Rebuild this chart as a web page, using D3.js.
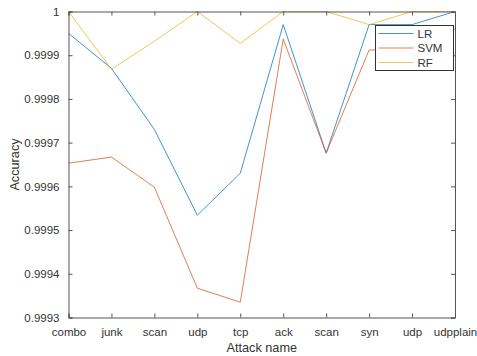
<!DOCTYPE html>
<html>
<head>
<meta charset="utf-8">
<script src="https://cdn.jsdelivr.net/npm/d3@7"></script>
<style>
  body { margin: 0; background: #fff; }
  svg text { font-family: "Liberation Sans", Arial, sans-serif; fill: #333; }
</style>
</head>
<body>
<div id="chart"></div>
<script>
// Données
const attacks = ['combo', 'junk', 'scan', 'udp', 'tcp', 'ack', 'scan', 'syn', 'udp', 'udpplain'];
const lrValues = [0.99995, 0.99987, 0.99973, 0.999534, 0.99963, 0.99997, 0.999676, 0.99997, 0.99997, 1.0];
const svmValues = [0.999653, 0.999667, 0.999598, 0.999367, 0.999335, 0.999937, 0.999676, 0.999912, 0.999912, 0.99996];
const rfValues = [1.0, 0.999868, 0.999932, 1.0, 0.999927, 1.0, 1.0, 0.99997, 1.0, 1.0];
const yTicks = [0.9993, 0.9994, 0.9995, 0.9996, 0.9997, 0.9998, 0.9999, 1];
const seriesNames = ['LR', 'SVM', 'RF'];
const seriesColors = ['#0072BD', '#D95319', '#EDB120'];

const W = 477, H = 356;
const margin = { top: 11.5, right: 22, bottom: 38.5, left: 68.5 };
const width = W - margin.left - margin.right;
const height = H - margin.top - margin.bottom;

const svg = d3.select('#chart').append('svg')
    .attr('width', W)
    .attr('height', H);

const g = svg.append('g')
    .attr('transform', `translate(${margin.left},${margin.top})`);

const x = d3.scalePoint()
    .domain(d3.range(attacks.length))
    .range([0, width]);

const y = d3.scaleLinear()
    .domain([0.9993, 1])
    .range([height, 0]);

// Lignes des séries
const series = [lrValues, svmValues, rfValues];
const line = d3.line()
    .x((d, i) => x(i))
    .y(d => y(d));

series.forEach((vals, k) => {
    g.append('path')
        .datum(vals)
        .attr('fill', 'none')
        .attr('stroke', seriesColors[k])
        .attr('stroke-opacity', 0.75)
        .attr('stroke-width', 1)
        .attr('d', line);
});

// Axes (boîte MATLAB, graduations vers l'intérieur)
const axisColor = '#555';
const tickLen = 4;

const xAxis = g.append('g')
    .attr('transform', `translate(0,${height})`)
    .call(d3.axisBottom(x).tickSize(-tickLen).tickPadding(10).tickFormat(i => attacks[i]));
const xTop = g.append('g')
    .call(d3.axisTop(x).tickSize(-tickLen).tickFormat(''));
const yAxis = g.append('g')
    .call(d3.axisLeft(y).tickValues(yTicks).tickSize(-tickLen).tickPadding(9).tickFormat(d => d === 1 ? '1' : d3.format('.4f')(d)));
const yRight = g.append('g')
    .attr('transform', `translate(${width},0)`)
    .call(d3.axisRight(y).tickValues(yTicks).tickSize(-tickLen).tickFormat(''));

[xAxis, xTop, yAxis, yRight].forEach(a => {
    a.select('.domain').attr('stroke', axisColor);
    a.selectAll('.tick line').attr('stroke', axisColor);
    a.selectAll('.tick text')
        .style('font-size', '11.5px')
        .style('font-family', '"Liberation Sans", Arial, sans-serif')
        .attr('fill', '#333');
});

// Titres des axes
g.append('text')
    .attr('x', width / 2)
    .attr('y', height + 34)
    .attr('text-anchor', 'middle')
    .style('font-size', '12.7px')
    .text('Attack name');

g.append('text')
    .attr('transform', `translate(${-margin.left + 19},${height / 2}) rotate(-90)`)
    .attr('text-anchor', 'middle')
    .style('font-size', '12.7px')
    .text('Accuracy');

// Légende
const legend = svg.append('g')
    .attr('transform', 'translate(375.5,25.5)');

legend.append('rect')
    .attr('width', 78)
    .attr('height', 45)
    .attr('fill', '#fff')
    .attr('stroke', '#333')
    .attr('stroke-width', 1);

seriesNames.forEach((name, k) => {
    const ly = 8 + k * 14.5;
    legend.append('line')
        .attr('x1', 3).attr('x2', 38)
        .attr('y1', ly).attr('y2', ly)
        .attr('stroke', seriesColors[k])
        .attr('stroke-opacity', 0.75)
        .attr('stroke-width', 1);
    legend.append('text')
        .attr('x', 42)
        .attr('y', ly + 4)
        .style('font-size', '11.5px')
        .text(name);
});
</script>
</body>
</html>
